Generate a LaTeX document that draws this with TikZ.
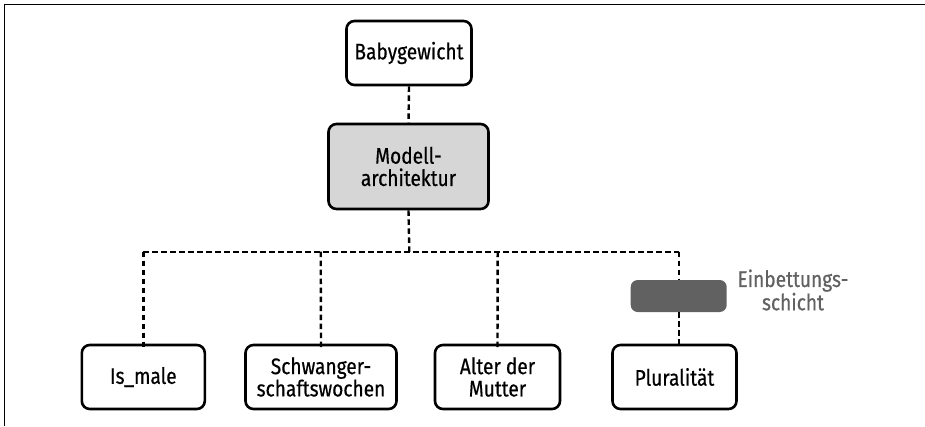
\documentclass[tikz,border=0pt]{standalone}
\usepackage{fontspec}
\setmainfont{Fira Sans}[FakeStretch=0.85, FakeBold=0.5]
\begin{document}
\begin{tikzpicture}[x=1pt,y=-1pt,
  every node/.style={font=\fontsize{22.5}{22.3}\selectfont, align=center, inner sep=0pt},
  box/.style={draw=black, line width=2.6pt, rounded corners=8pt, fill=white},
  grey box/.style={box, fill=gray!32},
  embed/.style={fill=black!62, rounded corners=7pt},
  link/.style={line width=2.4pt, dash pattern=on 5.5pt off 3.5pt},
  note/.style={text=black!62, font=\fontsize{22.5}{19.5}\selectfont}]
  % page extent and frame
  \useasboundingbox (0,0) rectangle (925,426);
  \draw[line width=1.4pt] (4.3,426) -- (4.3,4.3) -- (925,4.3);

  % output and model
  \node[box, minimum width=125pt, minimum height=64pt] (out) at (409,53) {Babygewicht};
  \node[grey box, minimum width=160pt, minimum height=85pt] (model) at (408.5,166.5) {Modell-\\architektur};

  % inputs
  \node[box, minimum width=123pt, minimum height=64pt] (ismale) at (143.3,377) {Is\_male};
  \node[box, minimum width=151pt, minimum height=64pt] (weeks) at (321,377) {Schwanger-\\schaftswochen};
  \node[box, minimum width=125pt, minimum height=64pt] (age) at (497.5,377) {Alter der\\Mutter};
  \node[box, minimum width=124pt, minimum height=64pt] (plural) at (674.5,377) {Pluralität};

  % embedding layer
  \node[embed, minimum width=96pt, minimum height=32pt] (emb) at (678.7,296) {};
  \node[note] (embtxt) at (793,290) {Einbettungs-\\schicht};

  % branching coordinates
  \coordinate (hub) at (409.3,251.7);
  \coordinate (jm) at (143.3,251.7);
  \coordinate (jw) at (320.7,251.7);
  \coordinate (ja) at (497.7,251.7);
  \coordinate (jp) at (679,251.7);

  % connectors
  \draw[link] (out.south) -- (model.north);
  \draw[link] (model.south) -- (hub);
  \draw[link] (jm) -- (jp);
  \draw[link] (jm) -- ([yshift=-3.5pt]ismale.north);
  \draw[link] (jw) -- ([yshift=-3.5pt]weeks.north);
  \draw[link] (ja) -- ([yshift=-3.5pt]age.north);
  \draw[link] (jp) -- (emb.north -| jp);
  \draw[link] (emb.south -| jp) -- ([yshift=-3.5pt]plural.north -| jp);
\end{tikzpicture}
\end{document}
